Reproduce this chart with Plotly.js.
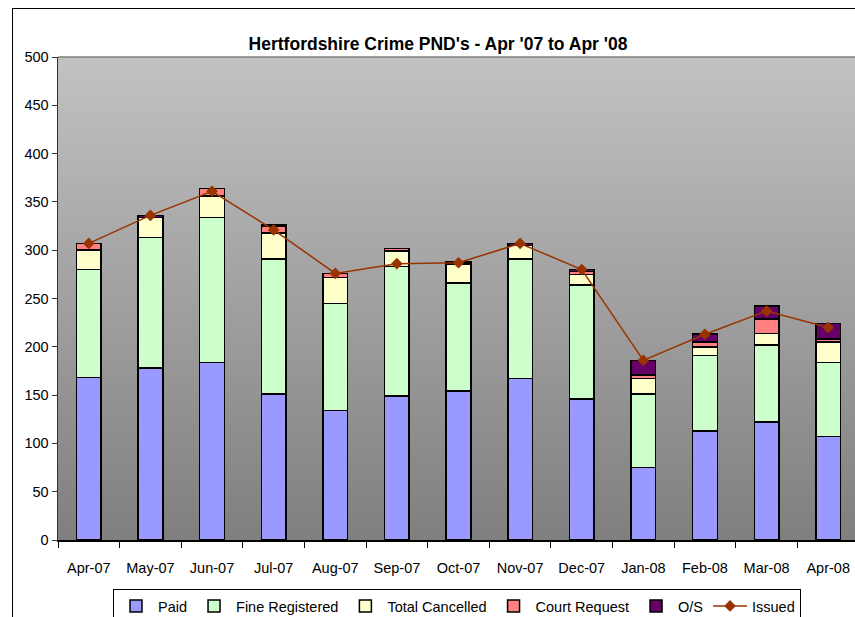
<!DOCTYPE html>
<html>
<head>
<meta charset="utf-8">
<script src="https://cdn.plot.ly/plotly-3.0.1.min.js"></script>
<style>
html,body{margin:0;padding:0;background:#fff;overflow:hidden;width:855px;height:617px;}
#frame{position:absolute;left:12px;top:8px;width:900px;height:700px;border-left:1.5px solid #000;border-top:1.5px solid #000;pointer-events:none;}
#chart{position:absolute;left:0;top:0;width:862px;height:617px;}
</style>
</head>
<body>
<div id="frame"></div>
<div id="chart"></div>
<script>
const months = ["Apr-07","May-07","Jun-07","Jul-07","Aug-07","Sep-07","Oct-07","Nov-07","Dec-07","Jan-08","Feb-08","Mar-08","Apr-08"];
const paid = [168,178,184,151,134,149,154,167,146,75,113,122,107];
const fineRegistered = [112,135,150,140,111,134,112,124,118,76,78,80,77];
const totalCancelled = [20,21,22,27,27,16,19,14,11,16,9,12,21];
const courtRequest = [7,0,8,7,4,3,2,0,3,4,5,15,3];
const outstanding = [0,2,0,1,0,0,1,2,2,15,8,13,16];
const issued = [307,336,361,321,276,286,287,307,280,186,213,237,220];

const FONT = "'Liberation Sans',Arial,sans-serif";

function barTrace(name, vals, color){
  return {type:'bar', name:name, x:months, y:vals,
    marker:{color:color, line:{color:'#000', width:1.5}}, hoverinfo:'y+name'};
}
const traces = [
  barTrace('Paid', paid, '#9999ff'),
  barTrace('Fine Registered', fineRegistered, '#ccffcc'),
  barTrace('Total Cancelled', totalCancelled, '#ffffcc'),
  barTrace('Court Request', courtRequest, '#ff8080'),
  barTrace('O/S', outstanding, '#660066'),
  {type:'scatter', mode:'lines+markers', name:'Issued', x:months, y:issued,
   line:{color:'#993300', width:1.5}, marker:{symbol:'diamond', size:9, color:'#993300'}}
];

const svg = "<svg xmlns='http://www.w3.org/2000/svg' width='100' height='100' preserveAspectRatio='none'><defs><linearGradient id='g' x1='0' y1='0' x2='0' y2='1'><stop offset='0' stop-color='#c2c2c2'/><stop offset='1' stop-color='#7f7f7f'/></linearGradient></defs><rect width='100' height='100' fill='url(#g)'/></svg>";
const bgSrc = 'data:image/svg+xml;charset=utf-8,' + encodeURIComponent(svg);

const layout = {
  width:862, height:617,
  margin:{l:58, r:3, t:57, b:77, autoexpand:false},
  paper_bgcolor:'rgba(0,0,0,0)',
  plot_bgcolor:'rgba(0,0,0,0)',
  barmode:'stack',
  bargap:0.6,
  font:{family:FONT, size:14, color:'#000'},
  title:{text:"<b>Hertfordshire Crime PND's - Apr '07 to Apr '08</b>", font:{family:FONT, size:17.5, color:'#000'},
         x:438/862, xanchor:'center', y:1-44/617, yanchor:'middle', xref:'container', yref:'container'},
  xaxis:{type:'category', showgrid:false, zeroline:false, showline:true, linecolor:'#000', linewidth:1.5,
         ticks:'outside', ticklen:6, tickcolor:'#000', tickson:'boundaries', ticklabelstandoff:14, tickangle:0,
         automargin:false, tickfont:{family:FONT, size:14.5}, range:[-0.5,12.5], fixedrange:true},
  yaxis:{range:[0,500], dtick:50, showgrid:false, zeroline:false, showline:true, linecolor:'#333', linewidth:1.5,
         ticks:'outside', ticklen:5, tickcolor:'#333', automargin:false, tickfont:{family:FONT, size:14.5}, fixedrange:true},
  images:[{source:bgSrc, xref:'paper', yref:'paper', x:0, y:1, sizex:1, sizey:1, sizing:'stretch', layer:'below', xanchor:'left', yanchor:'top'}],
  shapes:[{type:'line', xref:'paper', yref:'paper', x0:0, x1:1, y0:1, y1:1, line:{color:'#808080', width:1.5}}],
  showlegend:true,
  legend:{orientation:'h', xref:'container', yref:'container', x:457/862, xanchor:'center', y:(617-589)/617, yanchor:'top',
          bgcolor:'#fff', bordercolor:'#000', borderwidth:1, font:{family:FONT, size:14.5},
          traceorder:'normal', itemwidth:34}
};

Plotly.newPlot('chart', traces, layout, {displayModeBar:false, staticPlot:true});
</script>
</body>
</html>
